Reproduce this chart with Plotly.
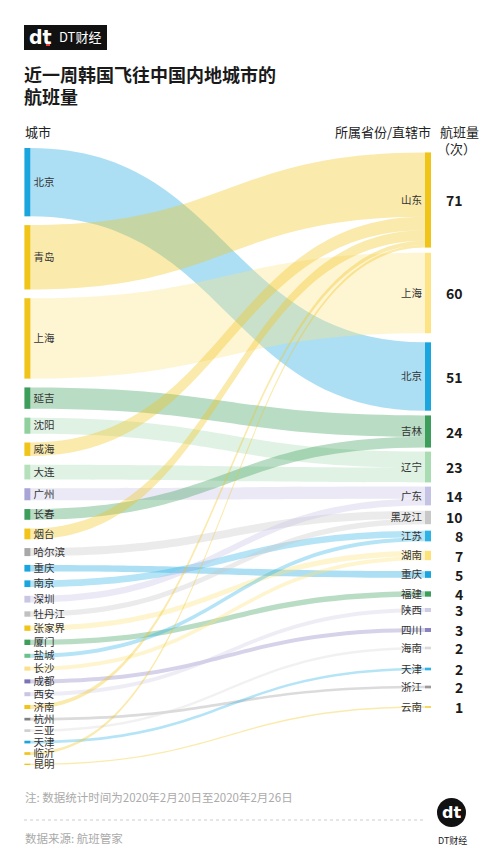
import plotly.graph_objects as go

W, H = 500, 854          # target picture size
OFF = 8                  # page body margin of the browser
FW, FH = W - OFF, H - OFF  # figure size so the page fits the window

# ---------------- data ----------------
cities = ["北京", "青岛", "上海", "延吉", "沈阳", "威海", "大连", "广州", "长春", "烟台",
          "哈尔滨", "重庆", "南京", "深圳", "牡丹江", "张家界", "厦门", "盐城", "长沙", "成都",
          "西安", "济南", "杭州", "三亚", "天津", "临沂", "昆明"]
city_province = ["北京", "山东", "上海", "吉林", "辽宁", "山东", "辽宁", "广东", "吉林", "山东",
                 "黑龙江", "重庆", "江苏", "广东", "黑龙江", "湖南", "福建", "江苏", "湖南", "四川",
                 "陕西", "山东", "浙江", "海南", "天津", "山东", "云南"]
flights = [51, 48, 60, 16, 12, 10, 11, 9, 8, 8,
           6, 5, 5, 5, 4, 4, 4, 3, 3, 3,
           3, 3, 2, 2, 2, 2, 1]
provinces = ["山东", "上海", "北京", "吉林", "辽宁", "广东", "黑龙江", "江苏", "湖南", "重庆",
             "福建", "陕西", "四川", "海南", "天津", "浙江", "云南"]

title_lines = ["近一周韩国飞往中国内地城市的", "航班量"]
note_text = "注: 数据统计时间为2020年2月20日至2020年2月26日"
source_text = "数据来源: 航班管家"

# ---------------- styles / layout ----------------
city_colors = ["#1aa5de", "#f0c419", "#f0c419", "#3d9e5c", "#8fd09c", "#f0c419", "#b5e0bc", "#a9a4d6", "#3d9e5c", "#f0c419",
               "#a8a8a8", "#1aa5de", "#1aa5de", "#c8c6e4", "#c0c0c0", "#f0c419", "#3d9e5c", "#6cc08a", "#fbe08a", "#7b73b8",
               "#c8c6e4", "#f0c419", "#808080", "#cfcfcf", "#1aa5de", "#f0c419", "#f0c419"]
province_colors = ["#f0c419", "#fde384", "#1aa5de", "#3d9e5c", "#a9dcb3", "#c5c3e3", "#c8c8c8", "#2fb3e6", "#fde27a", "#1aa5de",
                   "#3d9e5c", "#cfcde6", "#8a83c2", "#d9d9d9", "#2fb3e6", "#9a9a9a", "#f0c419"]
province_center_px = [200, 293, 376.5, 431.5, 467, 496, 517.5, 536, 555.5, 574.5,
                      594, 610, 630, 648, 669, 687, 707]

FONT = "Noto Sans CJK SC"
DOM_TOP, DOM_BOT = 148, 765          # px of the sankey area
DOM_L, DOM_R = 27, 428               # px of node centres
KY = 1.34                            # px per flight
DOM_H = DOM_BOT - DOM_TOP
total = sum(flights)
pad = (DOM_H - KY * total) / (len(cities) - 1)


def hex_rgba(h, a):
    h = h.lstrip("#")
    return "rgba(%d,%d,%d,%.2f)" % (int(h[0:2], 16), int(h[2:4], 16), int(h[4:6], 16), a)


def px(x):
    return (x - OFF) / FW


def py(y):
    return 1 - (y - OFF) / FH


# left node positions follow the values stacked with a constant gap
left_y = []
cum = 0.0
for v in flights:
    left_y.append((cum + v * KY / 2) / DOM_H)
    cum += v * KY + pad
right_y = [(p - DOM_TOP) / DOM_H for p in province_center_px]

n_c = len(cities)
labels = cities + provinces
node_x = [0.001] * n_c + [1.0] * len(provinces)
node_y = left_y + right_y
node_colors = city_colors + province_colors

src = list(range(n_c))
tgt = [n_c + provinces.index(p) for p in city_province]
link_colors = [hex_rgba(province_colors[provinces.index(p)], 0.36) for p in city_province]

province_totals = [sum(v for v, p in zip(flights, city_province) if p == prov) for prov in provinces]

fig = go.Figure(go.Sankey(
    arrangement="fixed",
    domain=dict(x=[px(DOM_L), px(DOM_R)], y=[py(DOM_BOT), py(DOM_TOP)]),
    node=dict(label=labels, x=node_x, y=node_y, color=node_colors, pad=pad,
              thickness=6, line=dict(width=0), hoverinfo="skip"),
    link=dict(source=src, target=tgt, value=flights, color=link_colors,
              line=dict(width=0), hoverinfo="skip"),
    textfont=dict(family=FONT, size=10.5, color="#333", shadow="none"),
))

ann = []


def add_text(text, x, y, size, color="#222", xanchor="left", bold=False, family=FONT):
    ann.append(dict(text=("<b>%s</b>" % text) if bold else text, x=px(x), y=py(y),
                    xref="paper", yref="paper", xanchor=xanchor, yanchor="middle",
                    showarrow=False, font=dict(family=family, size=size, color=color)))


# title
add_text(title_lines[0], 22, 74, 18, "#1a1a1a", bold=True)
add_text(title_lines[1], 22, 96, 18, "#1a1a1a", bold=True)
# headers
add_text("城市", 23, 132, 13, "#222")
add_text("所属省份/直辖市", 433, 132, 13, "#222", xanchor="right")
add_text("航班量", 459, 132, 13, "#222", xanchor="center")
add_text("（次）", 456, 148, 13, "#222", xanchor="center")
# totals
for t, c in zip(province_totals, province_center_px):
    add_text(str(t), 465, c, 14, "#1a1a1a", xanchor="right", bold=True)
# footer
add_text(note_text, 23, 797, 11.5, "#aaaaaa")
add_text(source_text, 23, 838, 11.5, "#aaaaaa")
# top logo
add_text("dt", 27, 37, 19, "#ffffff", bold=True, family="DejaVu Sans")
add_text("DT财经", 57, 37, 13, "#ffffff")
# bottom logo
add_text("dt", 451, 812, 16, "#ffffff", xanchor="center", bold=True, family="DejaVu Sans")
add_text("DT财经", 452, 840, 9, "#222", xanchor="center")

shapes = [
    dict(type="rect", xref="paper", yref="paper", x0=px(24), x1=px(107), y0=py(50), y1=py(25),
         fillcolor="#111", line=dict(width=0), layer="below"),
    dict(type="rect", xref="paper", yref="paper", x0=px(46), x1=px(50), y0=py(46), y1=py(42),
         fillcolor="#e8413c", line=dict(width=0)),
    dict(type="circle", xref="paper", yref="paper", x0=px(437), x1=px(466), y0=py(827), y1=py(798),
         fillcolor="#111", line=dict(width=0), layer="below"),
    dict(type="rect", xref="paper", yref="paper", x0=px(458), x1=px(461), y0=py(818), y1=py(815),
         fillcolor="#e8413c", line=dict(width=0)),
    dict(type="line", xref="paper", yref="paper", x0=px(24), x1=px(425), y0=py(820), y1=py(820),
         line=dict(color="#cccccc", width=1, dash="dot")),
]

fig.update_layout(width=FW, height=FH, margin=dict(l=0, r=0, t=0, b=0),
                  paper_bgcolor="white", plot_bgcolor="white",
                  annotations=ann, shapes=shapes, showlegend=False)

fig.write_html("out.html")
